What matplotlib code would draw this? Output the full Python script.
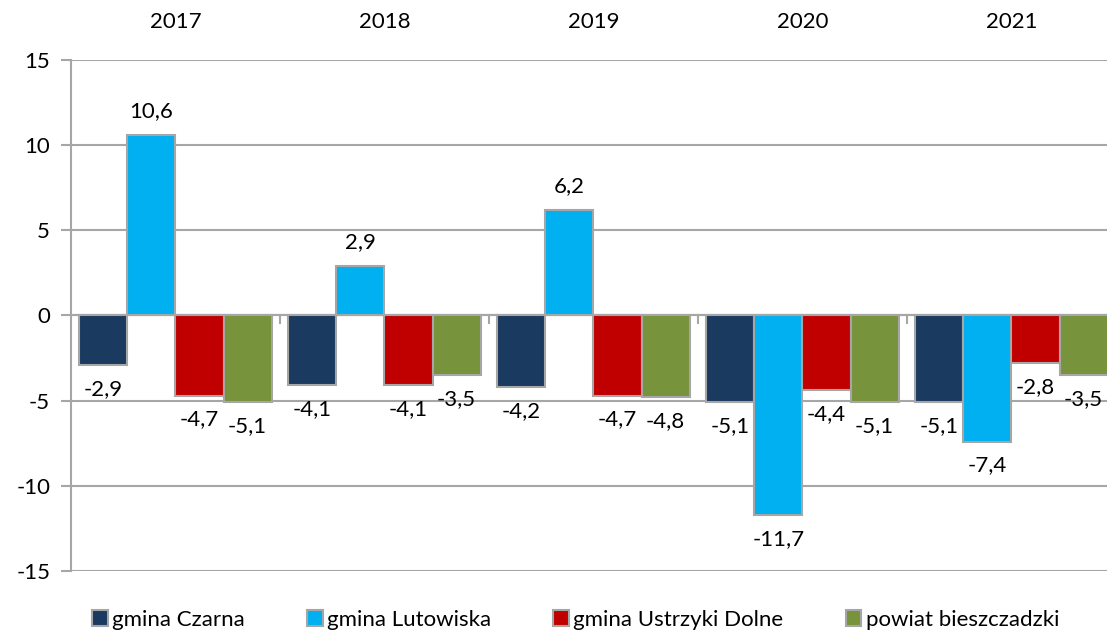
import matplotlib.pyplot as plt
import numpy as np

years = ['2017', '2018', '2019', '2020', '2021']
series_names = ['gmina Czarna', 'gmina Lutowiska', 'gmina Ustrzyki Dolne', 'powiat bieszczadzki']
czarna = [-2.9, -4.1, -4.2, -5.1, -5.1]
lutowiska = [10.6, 2.9, 6.2, -11.7, -7.4]
ustrzyki = [-4.7, -4.1, -4.7, -4.4, -2.8]
powiat = [-5.1, -3.5, -4.8, -5.1, -3.5]
colors = ['#1B3A5F', '#00B0F0', '#C00000', '#77933C']

plt.rcParams['font.family'] = ['Lato', 'DejaVu Sans']
plt.rcParams['axes.unicode_minus'] = False
fs = 16
fig = plt.figure(figsize=(11.07, 6.36), dpi=100)
ax = fig.add_axes([0.0641, 0.1022, 0.944, 0.8035])

x = np.arange(len(years))
width = 0.23
grey = '#A6A6A6'
for i, (name, vals) in enumerate(zip(series_names, [czarna, lutowiska, ustrzyki, powiat])):
    pos = x + (i - 1.5) * width
    ax.bar(pos, vals, width, color=colors[i], edgecolor=grey, linewidth=1.5,
           label=name, zorder=3)
    for xp, v in zip(pos, vals):
        lbl = f'{v:.1f}'.replace('.', ',')
        if v >= 0:
            ax.annotate(lbl, (xp, v), xytext=(0, 10), textcoords='offset points',
                        ha='center', va='bottom', fontsize=fs)
        else:
            ax.annotate(lbl, (xp, v), xytext=(0, -10), textcoords='offset points',
                        ha='center', va='top', fontsize=fs)

ax.set_xlim(-0.5, len(years) - 0.5)
ax.set_ylim(-15, 15)
ax.set_yticks(np.arange(-15, 16, 5))
ax.tick_params(axis='y', labelsize=fs, length=7, color=grey, width=1.5, pad=8)
ax.yaxis.grid(True, color=grey, linewidth=1.5, zorder=0)
ax.axhline(0, color=grey, linewidth=1.5, zorder=2)

# category labels on top
ax.xaxis.tick_top()
ax.set_xticks(x)
ax.set_xticklabels(years, fontsize=fs)
ax.tick_params(axis='x', length=0, pad=20)

# small separator ticks on the zero line
for b in x[:-1] + 0.5:
    ax.plot([b, b], [0, -0.45], color=grey, linewidth=1.5, zorder=2)

for s in ['top', 'right', 'bottom']:
    ax.spines[s].set_visible(False)
ax.spines['left'].set_color(grey)
ax.spines['left'].set_linewidth(1.5)

leg = fig.legend(loc='lower center', bbox_to_anchor=(0.52, -0.022), ncol=4, frameon=False,
                 fontsize=fs, handlelength=0.7, handleheight=0.7, handletextpad=0.2,
                 columnspacing=2.8)

fig.savefig('out.png', dpi=100)
